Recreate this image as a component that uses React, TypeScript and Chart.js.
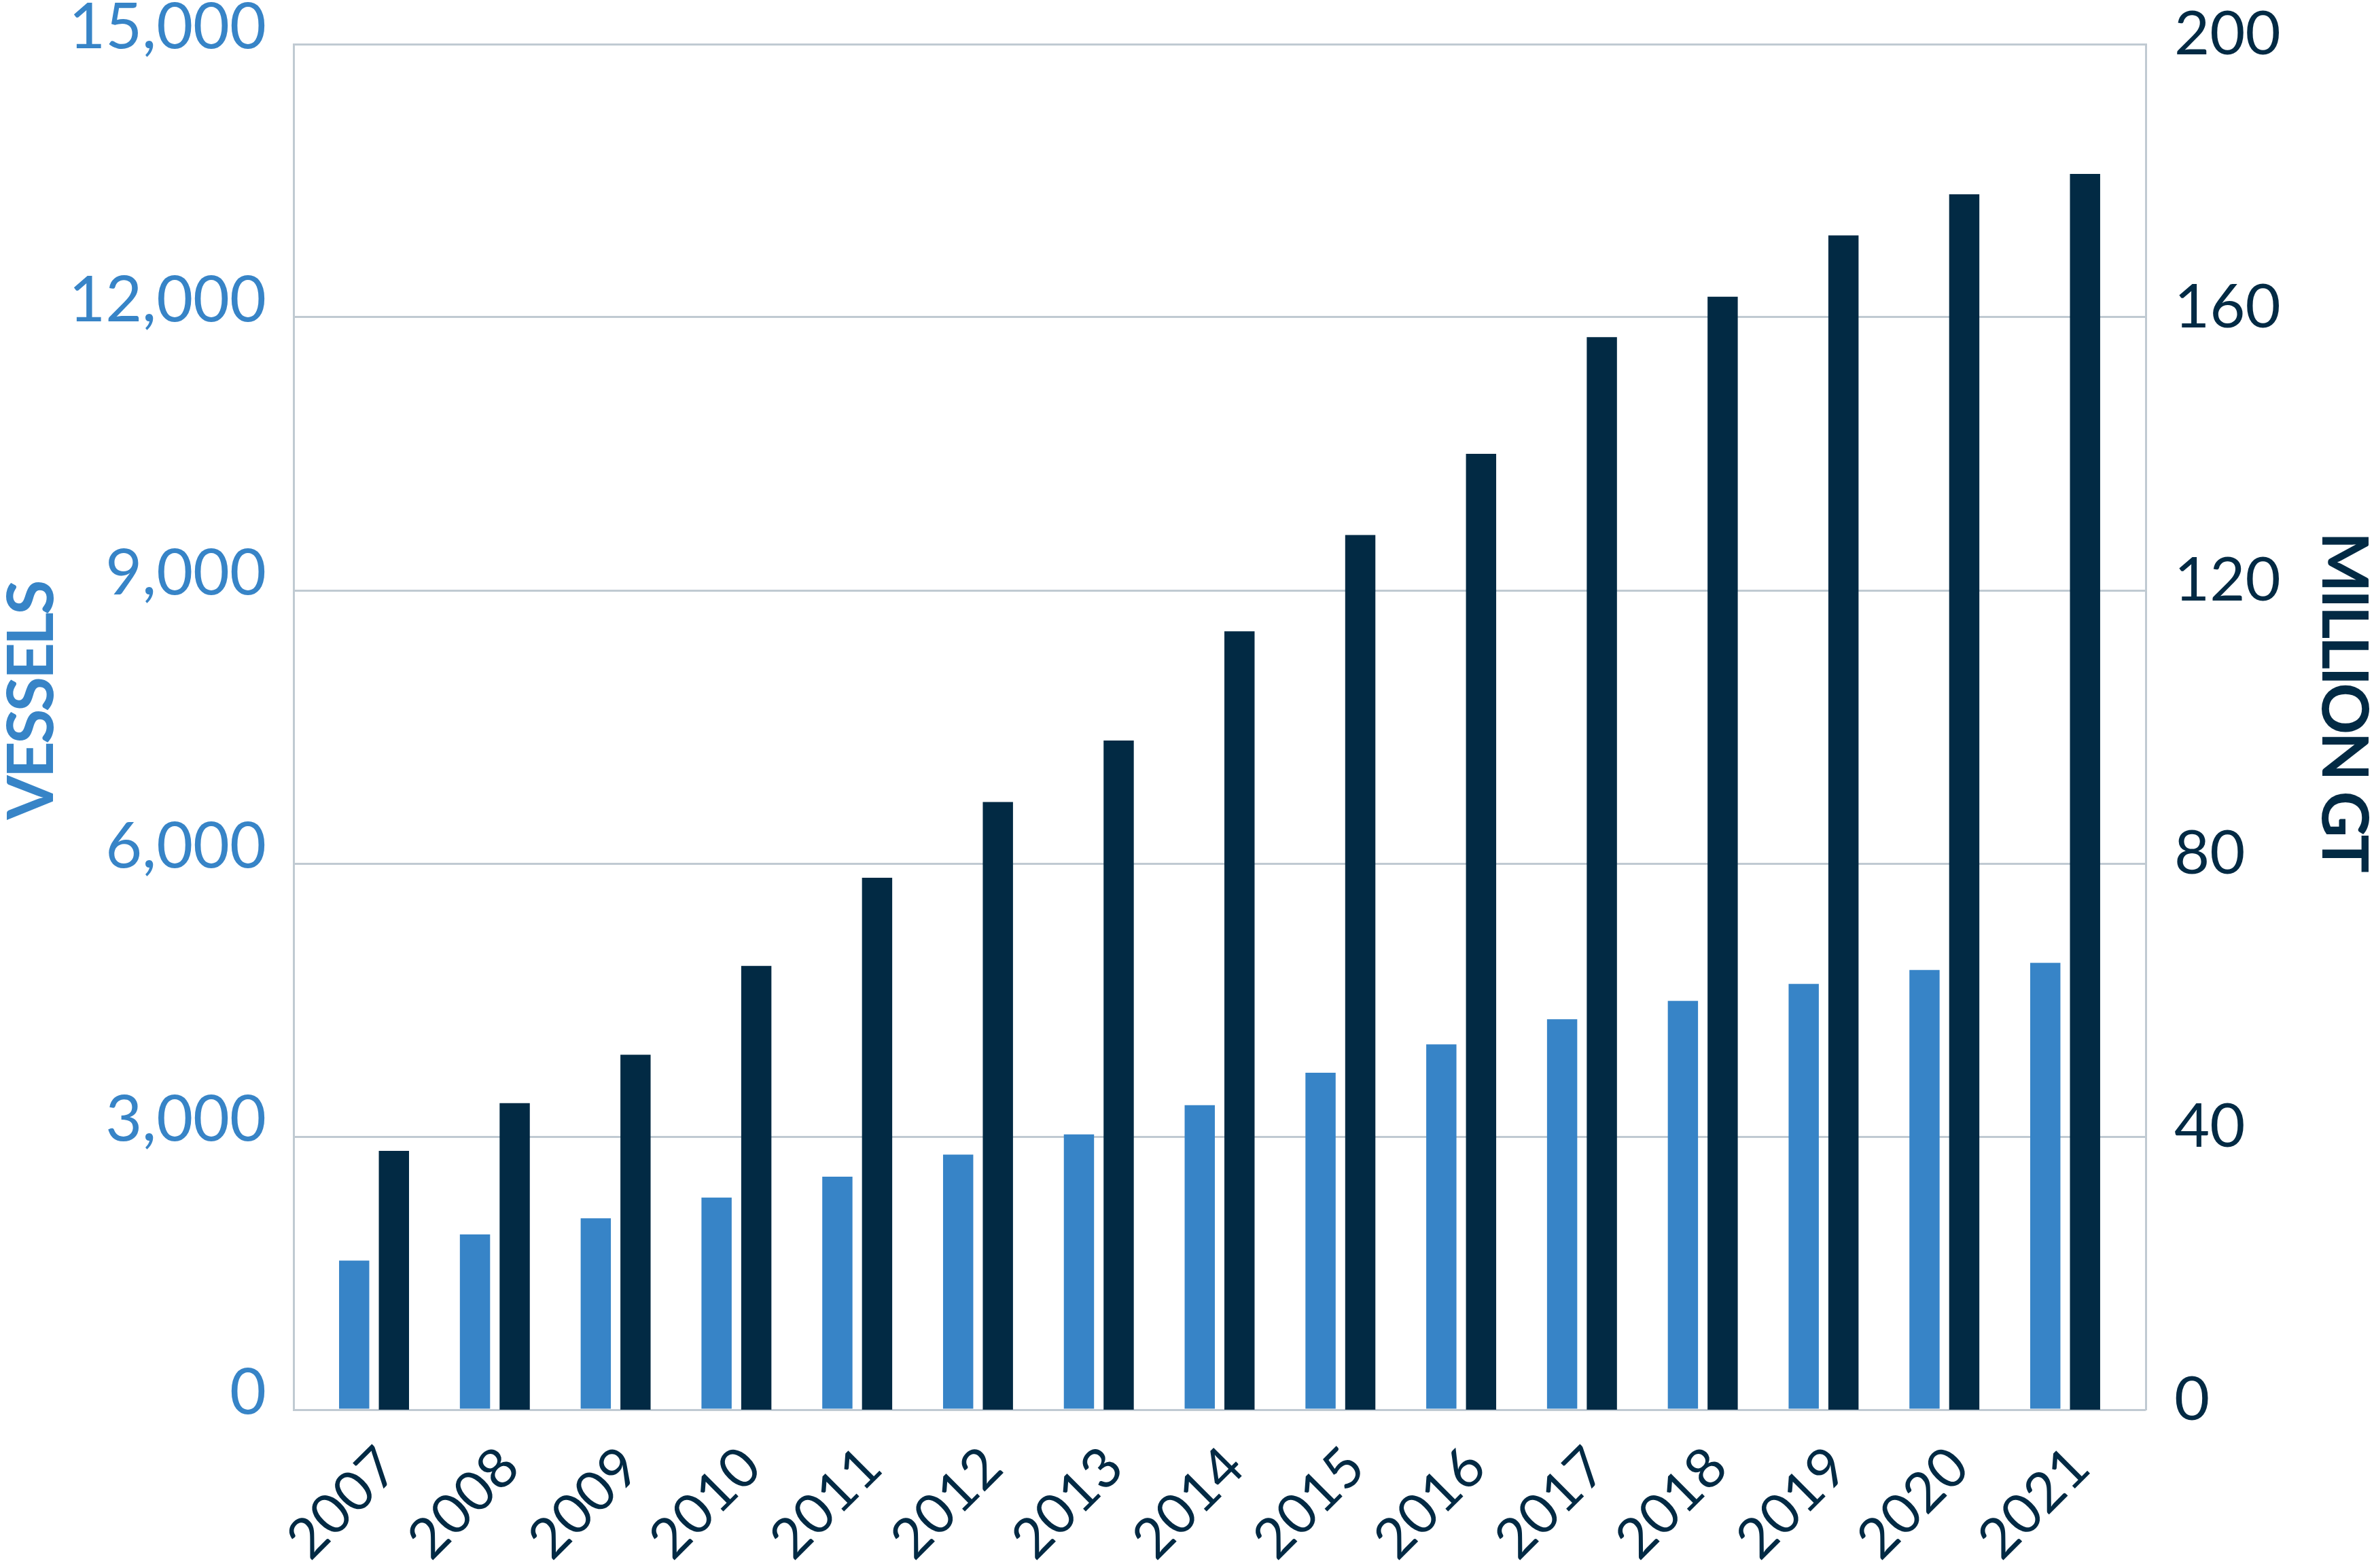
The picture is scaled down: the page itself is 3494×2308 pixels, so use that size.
import { useEffect, useRef } from 'react';
import { Chart, registerables } from 'chart.js';

Chart.register(...registerables);

// fleet per year: number of vessels (left axis) and gross tonnage in millions (right axis)
const years = ['2007', '2008', '2009', '2010', '2011', '2012', '2013', '2014', '2015', '2016', '2017', '2018', '2019', '2020', '2021'];
const vessels = [1638, 1926, 2102, 2331, 2559, 2802, 3025, 3345, 3702, 4013, 4289, 4491, 4677, 4831, 4909];
const millionGT = [37.9, 44.9, 52.0, 65.0, 77.9, 89.0, 98.0, 114.0, 128.1, 140.0, 157.1, 163.0, 172.0, 178.0, 181.0];

const vesselTicks = [0, 3000, 6000, 9000, 12000, 15000];
const gtTicks = [0, 40, 80, 120, 160, 200];

const LIGHT = '#3784c7';
const NAVY = '#022a44';
const GRID = '#c0cad2';
const FONT = 'Lato, "Noto Sans", sans-serif';

// side titles, drawn a bit above the plot's vertical centre like the original
const sideTitles = {
  id: 'sideTitles',
  afterDraw(chart: Chart) {
    const { ctx, chartArea } = chart;
    const midY = (chartArea.top + chartArea.bottom) / 2 - 38;
    ctx.save();
    ctx.font = `bold 94px ${FONT}`;
    (ctx as any).letterSpacing = '-4px';
    ctx.textAlign = 'center';
    ctx.textBaseline = 'middle';

    ctx.fillStyle = LIGHT;
    ctx.translate(48, midY);
    ctx.rotate(-Math.PI / 2);
    ctx.fillText('VESSELS', 0, 0);
    ctx.setTransform(1, 0, 0, 1, 0, 0);

    ctx.fillStyle = NAVY;
    ctx.translate(chart.width - 46, midY);
    ctx.rotate(Math.PI / 2);
    ctx.fillText('MILLION GT', 0, 0);
    ctx.restore();
  },
};

// keep the plot edges where they are; labels may hang outside
const noEdgePadding = (scale: any) => {
  scale.paddingTop = 0;
  scale.paddingBottom = 0;
};

function FleetChart() {
  const canvasRef = useRef<HTMLCanvasElement>(null);

  useEffect(() => {
    if (!canvasRef.current) return;

    const chart = new Chart(canvasRef.current, {
      type: 'bar',
      data: {
        labels: years,
        datasets: [
          {
            label: 'Vessels',
            data: vessels,
            backgroundColor: LIGHT,
            yAxisID: 'y',
          },
          {
            label: 'Million GT',
            data: millionGT,
            backgroundColor: NAVY,
            yAxisID: 'y1',
          },
        ],
      },
      options: {
        animation: false,
        responsive: true,
        maintainAspectRatio: false,
        devicePixelRatio: 1,
        datasets: {
          bar: {
            categoryPercentage: 0.658,
            barPercentage: 0.76,
            borderWidth: 0,
          },
        },
        layout: { padding: { top: 65, left: 0, right: 0, bottom: 0 } },
        scales: {
          x: {
            // a little extra room at both ends of the category axis
            afterBuildTicks: (scale: any) => {
              scale._startValue = -2 / 3;
              scale._valueRange = years.length + 1 / 3;
            },
            afterFit: (scale: any) => {
              scale.height = 233;
              scale.paddingLeft = 0;
              scale.paddingRight = 0;
            },
            grid: { display: false, drawTicks: false },
            border: { display: false },
            ticks: {
              color: NAVY,
              font: { family: FONT, size: 82, lineHeight: 1 },
              minRotation: 45,
              maxRotation: 45,
              padding: 42,
              labelOffset: 22,
              autoSkip: false,
            },
          },
          y: {
            position: 'left',
            min: 0,
            max: 15000,
            afterFit: (scale: any) => {
              scale.width = 432;
              noEdgePadding(scale);
            },
            afterBuildTicks: (scale: any) => {
              scale.ticks = vesselTicks.map((value) => ({ value }));
            },
            grid: { color: GRID, lineWidth: 3, drawTicks: false },
            border: { display: true, color: GRID, width: 3 },
            ticks: {
              color: LIGHT,
              font: { family: FONT, size: 93 },
              padding: 40,
              labelOffset: -24,
              callback: (v: any) => Number(v).toLocaleString('en-US'),
            },
          },
          y1: {
            position: 'right',
            min: 0,
            max: 200,
            afterFit: (scale: any) => {
              scale.width = 336;
              noEdgePadding(scale);
            },
            afterBuildTicks: (scale: any) => {
              scale.ticks = gtTicks.map((value) => ({ value }));
            },
            grid: { display: false, drawTicks: false },
            border: { display: true, color: GRID, width: 3 },
            ticks: {
              color: NAVY,
              font: { family: FONT, size: 90 },
              padding: 42,
              labelOffset: -14,
            },
          },
        },
        plugins: {
          legend: { display: false },
          tooltip: { enabled: false },
        },
      },
      plugins: [sideTitles],
    });

    return () => {
      chart.destroy();
    };
  }, []);

  return (
    <div style={{ position: 'fixed', left: 0, top: 0, width: '3494px', height: '2308px', background: '#fff' }}>
      <canvas ref={canvasRef} />
    </div>
  );
}

export default function App() {
  return <FleetChart />;
}
